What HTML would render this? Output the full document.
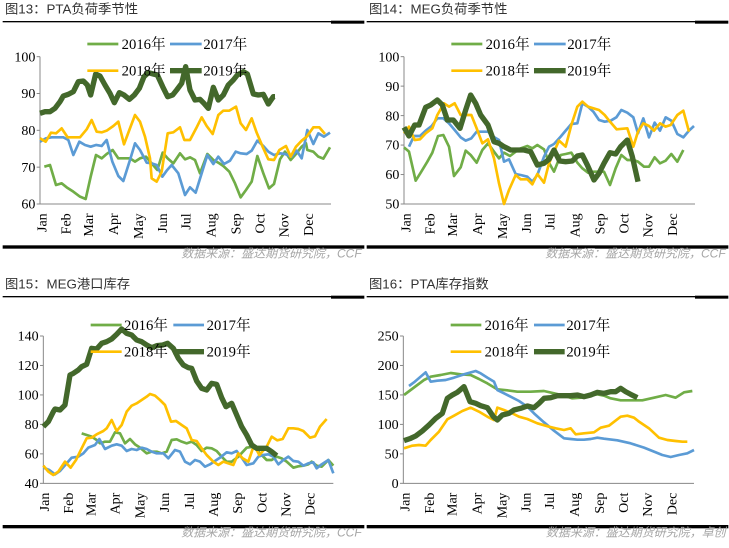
<!DOCTYPE html><html><head><meta charset="utf-8"><style>body{margin:0;background:#fff}svg{display:block}</style></head><body>
<svg id="s" width="729" height="548" xmlns="http://www.w3.org/2000/svg"></svg>
<script>
const M=['Jan','Feb','Mar','Apr','May','Jun','Jul','Aug','Sep','Oct','Nov','Dec'];
const C={g:'#70ad47',b:'#5b9bd5',y:'#ffc000',d:'#43682b'};
const P=[
{ox:0,oy:0,title:'图13：PTA负荷季节性',src:'数据来源：盛达期货研究院，CCF',ax:120,ay0:170,ay1:612,ar:993,ticks:['100','90','80','70','60'],
mx:[125,198,265,340,415,487,558,633,708,780,852,925],leg:[[262,355,365,132],[510,605,610,132],[262,355,365,212],[510,605,610,212]],
s:{d:"120,340 135,335 150,335 165,325 180,305 190,288 205,283 220,275 235,245 250,243 262,255 272,285 287,222 300,228 315,255 330,280 343,308 358,278 372,285 388,298 403,285 418,265 432,230 445,218 460,222 472,225 488,260 503,290 518,285 530,270 545,250 557,200 570,270 585,300 600,298 612,310 625,325 640,262 655,300 670,285 685,255 700,240 712,225 730,215 742,222 760,282 775,285 790,283 805,312 820,290 825,290",
y:"120,415 137,425 153,398 168,400 185,385 203,412 220,412 240,412 260,388 275,360 290,395 305,397 320,392 340,378 355,365 372,433 388,390 405,345 420,365 435,410 450,475 455,535 470,545 485,515 503,400 520,397 540,382 553,420 570,420 590,382 605,352 620,378 638,402 655,345 670,332 688,332 708,320 722,370 738,390 755,355 770,398 790,445 805,478 822,480 838,450 858,438 872,470 888,440 905,422 920,410 940,382 958,382 975,402",
b:"120,425 138,415 155,412 190,412 205,420 220,465 238,425 255,435 272,440 288,435 305,438 320,420 337,485 355,528 370,543 390,480 405,430 420,450 440,488 455,490 470,495 487,530 500,512 515,495 535,520 555,585 570,562 587,578 605,520 622,465 640,492 655,470 672,492 690,482 707,455 722,460 740,462 755,452 772,422 790,438 805,455 822,465 840,460 855,462 875,470 890,452 905,475 922,390 940,432 955,400 972,410 990,398",
g:"133,500 150,495 168,555 185,550 200,562 220,575 240,590 257,597 272,530 288,465 305,475 320,462 338,450 355,475 372,475 390,475 405,485 420,475 438,470 455,490 472,510 488,458 503,475 520,490 540,460 555,478 570,472 585,480 600,520 622,462 640,480 655,488 670,498 688,515 705,550 722,592 738,570 755,545 772,468 790,520 807,565 822,552 840,478 855,455 872,480 888,462 905,440 918,430 922,450 940,455 955,470 970,476 990,442"}},
{ox:364,oy:0,title:'图14：MEG负荷季节性',src:'数据来源：盛达期货研究院，CCF',ax:120,ay0:170,ay1:612,ar:993,ticks:['100','90','80','70','60','50'],
mx:[125,198,265,340,415,487,558,633,708,780,852,925],leg:[[262,355,365,132],[510,605,610,132],[262,355,365,212],[510,605,610,212]],
s:{d:"120,382 135,408 152,375 165,375 185,322 200,315 220,300 235,315 250,360 268,360 288,385 305,330 320,285 335,310 350,345 372,375 390,425 405,430 420,440 440,450 460,450 480,450 500,455 520,495 540,490 555,478 570,450 587,483 605,485 625,483 640,468 655,465 670,495 690,540 705,520 720,490 738,458 755,462 770,440 790,420 805,470 822,545",
y:"120,400 135,380 152,420 168,418 185,400 205,385 220,345 240,310 255,320 272,310 290,345 305,345 322,345 338,385 355,430 372,418 390,475 405,550 420,612 435,570 455,525 470,538 490,538 505,553 520,522 540,548 555,490 570,455 585,422 605,440 622,375 640,320 655,305 672,320 688,325 705,330 722,345 738,365 758,388 790,385 808,440 822,395 838,370 855,378 870,392 888,370 905,380 920,375 940,345 958,332 975,395",
b:"135,440 150,408 168,408 185,392 203,378 220,355 238,355 255,370 272,390 290,412 305,422 322,415 338,395 355,395 372,395 388,410 405,420 420,485 435,478 455,522 470,525 490,530 505,545 520,525 540,470 555,440 570,432 590,410 605,392 622,372 640,370 655,310 672,320 688,335 705,360 722,365 740,362 757,352 772,330 790,338 808,352 822,400 838,355 855,412 872,368 888,392 905,352 922,362 940,402 958,412 975,392 990,378",
g:"120,442 135,455 155,542 170,518 190,485 205,458 222,408 238,405 255,440 270,528 290,502 305,452 320,465 338,488 355,450 372,430 390,455 405,475 420,458 438,468 455,455 470,445 490,438 505,445 520,435 540,448 555,488 570,515 590,465 605,462 622,458 640,488 655,505 672,518 690,515 720,515 738,555 755,505 772,465 790,480 808,480 822,485 840,500 855,500 872,472 888,490 905,482 922,462 940,485 958,450"}},
{ox:0,oy:275,title:'图15：MEG港口库存',src:'数据来源：盛达期货研究院，CCF',ax:130,ay0:183,ay1:625,ar:1000,ticks:['140','120','100','80','60','40'],
mx:[133,205,272,345,420,493,568,640,712,785,858,930],leg:[[272,365,372,150],[520,612,620,150],[272,365,372,230],[520,612,620,230]],
s:{d:"130,455 145,440 160,410 165,402 180,405 195,390 210,300 220,295 235,285 245,275 260,268 275,220 290,222 305,205 320,200 335,192 350,178 365,162 380,175 395,180 410,195 425,200 440,210 455,218 470,212 488,210 503,205 520,220 535,250 550,270 565,278 575,280 590,318 605,340 620,345 635,325 650,328 665,368 678,395 695,385 710,420 725,455 740,480 755,510 770,520 785,520 800,520 815,530 830,542",
y:"130,572 145,590 160,600 175,590 195,560 212,578 228,555 245,520 260,490 275,488 290,478 310,468 320,460 335,435 350,468 365,450 380,410 395,392 410,385 425,375 440,365 450,357 465,362 480,375 495,390 513,440 528,438 545,450 560,460 575,495 590,498 605,520 620,540 640,560 655,570 670,560 685,565 700,570 715,535 728,550 745,560 762,510 778,540 800,515 815,485 832,496 848,492 865,460 880,460 895,462 910,468 930,488 945,484 960,455 980,432",
b:"130,578 148,585 165,598 180,588 200,565 215,548 235,545 250,535 265,518 285,510 298,492 315,522 335,512 350,508 365,512 380,528 395,522 410,525 425,518 440,522 455,530 470,535 490,535 505,550 525,525 540,530 555,560 570,568 585,555 600,560 615,575 630,568 645,558 660,548 680,532 695,535 710,528 725,548 740,570 760,565 775,545 790,540 805,538 820,545 835,568 850,555 865,545 880,558 895,560 910,572 925,565 940,562 950,580 965,568 985,555 1000,595",
g:"245,475 260,480 275,485 290,495 300,505 315,500 330,500 345,472 360,475 375,505 390,492 405,508 420,518 440,535 455,530 470,530 485,535 500,530 515,495 530,493 545,500 560,505 575,500 590,510 605,528 620,518 635,520 650,528 665,545 680,560 695,560 715,545 740,518 760,515 780,535 800,555 815,555 830,545 845,550 860,560 880,578 895,574 910,572 925,568 935,560 950,572 965,575 985,555 1000,572"}},
{ox:364,oy:275,title:'图16：PTA库存指数',src:'数据来源：盛达期货研究院，卓创',ax:118,ay0:183,ay1:625,ar:990,ticks:['250','200','150','100','50','0'],
mx:[123,196,263,338,413,485,556,631,706,778,850,923],leg:[[260,352,362,150],[510,602,607,150],[260,352,362,230],[510,602,607,230]],
s:{d:"120,497 140,490 155,483 175,468 195,450 215,430 235,415 250,370 265,360 280,352 300,335 318,380 335,385 350,392 370,398 388,425 400,435 415,420 435,415 450,405 470,400 490,393 510,398 525,385 540,370 560,368 580,362 600,362 620,362 640,360 660,365 680,360 700,352 720,355 740,350 755,350 770,340 785,350 800,358 820,368",
y:"120,520 145,512 165,510 185,512 200,495 225,470 250,433 270,422 295,408 320,398 345,410 370,425 390,435 400,398 420,405 445,415 465,425 490,432 520,445 555,455 575,460 600,465 620,460 635,478 660,475 690,472 710,458 735,452 770,425 790,422 810,428 825,440 855,460 885,488 910,495 935,498 955,500 970,500",
b:"135,333 150,322 170,305 185,292 200,320 220,317 245,315 270,308 300,298 335,288 350,295 370,308 390,320 400,345 420,355 440,365 465,378 490,395 510,415 540,442 570,467 600,490 620,492 640,494 660,494 680,492 700,488 720,491 760,496 800,505 840,518 870,530 895,540 920,546 945,540 970,535 990,525",
g:"120,360 140,345 160,330 180,315 200,305 230,300 260,294 290,298 320,300 345,312 370,325 400,343 430,346 460,350 500,350 540,348 570,355 600,362 625,370 650,368 680,362 700,358 720,362 740,370 770,376 800,376 835,376 870,368 905,360 935,368 960,352 985,348"}}
];
let h='';
const serif='font-family="Liberation Serif, serif"';
for(const p of P){
 h+=`<g transform="translate(${p.ox},${p.oy}) scale(0.33333)">`;
 h+=`<text x="15" y="40" font-size="40" fill="#333" font-family="Liberation Sans, Noto Sans CJK SC, sans-serif">${p.title}</text>`;
 h+=`<rect x="8" y="63" width="985" height="4" fill="#000"/><rect x="993" y="62" width="100" height="9" fill="#000"/>`;
 h+=`<rect x="8" y="${p.oy?750:736}" width="1085" height="10" fill="#000"/>`;
 h+=`<text x="1085" y="${p.oy?785:773}" text-anchor="end" font-size="36" font-style="italic" fill="#a6a6a6" font-family="Liberation Sans, Noto Sans CJK SC, sans-serif">${p.src}</text>`;
 const n=p.ticks.length, st=(p.ay1-p.ay0)/(n-1);
 h+=`<path d="M${p.ax},${p.ay0}V${p.ay1}H${p.ar}" stroke="#888" stroke-width="3" fill="none"/>`;
 p.ticks.forEach((t,i)=>{const y=p.ay0+i*st;h+=`<line x1="${p.ax-10}" x2="${p.ax}" y1="${y}" y2="${y}" stroke="#888" stroke-width="3"/><text x="${p.ax-14}" y="${y+14}" text-anchor="end" font-size="42" ${serif}>${t}</text>`;});
 p.mx.forEach((x,i)=>{h+=`<text transform="translate(${x+14},${p.ay1+28}) rotate(-90)" text-anchor="end" font-size="42" ${serif}>${M[i]}</text>`;});
 const ord=['g','b','y','d'], yr=['2016年','2017年','2018年','2019年'];
 ord.forEach((k,i)=>{const w=k=='d'?16:k=='y'?8:8;h+=`<polyline points="${p.s[k]}" fill="none" stroke="${C[k]}" stroke-width="${w}" stroke-linejoin="round"/>`;});
 ord.forEach((k,i)=>{const l=p.leg[i];const w=k=='d'?16:8;h+=`<line x1="${l[0]}" x2="${l[1]}" y1="${l[3]}" y2="${l[3]}" stroke="${C[k]}" stroke-width="${w}"/><text x="${l[2]}" y="${l[3]+15}" font-size="44" font-family="Liberation Serif, Noto Serif CJK SC, serif">${yr[i]}</text>`;});
 h+='</g>';
}
document.getElementById('s').innerHTML=h;
</script></body></html>
